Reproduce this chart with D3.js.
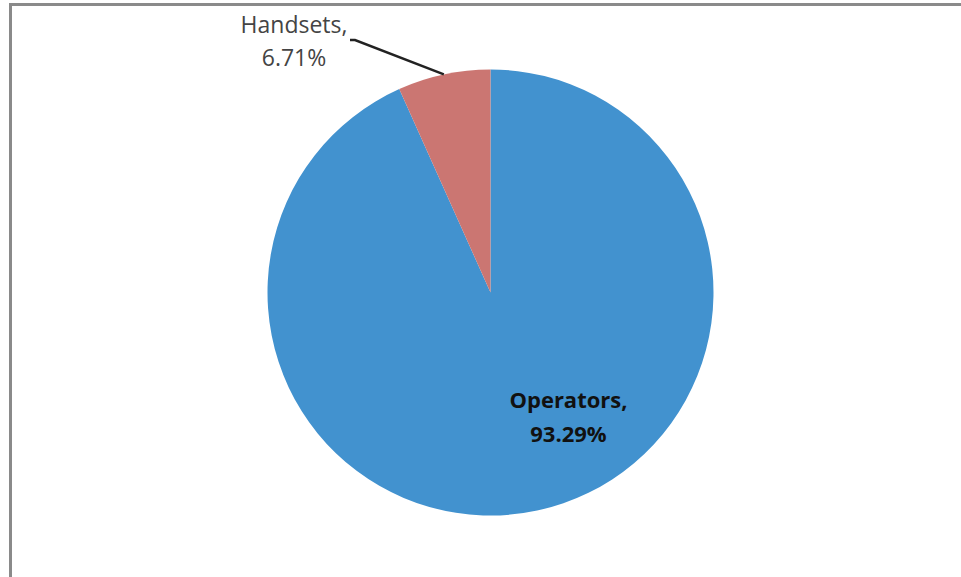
<!DOCTYPE html>
<html lang="en">
<head>
    <meta charset="UTF-8">
    <title>Operators vs Handsets</title>
    <script src="https://d3js.org/d3.v7.min.js"></script>
    <style>
        body { margin: 0; background: #fff; }
        text { font-family: "Open Sans", sans-serif; }
    </style>
</head>
<body>
    <svg width="961" height="577"></svg>

    <script>
        const categories = ["Operators", "Handsets"];
        const shares = [93.29, 6.71];
        const colors = ["#4292cf", "#cb7672"];

        const svg = d3.select("svg");

        // chart frame (only top and left edges show in the crop)
        svg.append("path")
            .attr("d", "M10.5,577 V4.5 H961")
            .attr("fill", "none")
            .attr("stroke", "#8a8a8a")
            .attr("stroke-width", 3);

        const cx = 490.5, cy = 292.5, r = 223;
        const g = svg.append("g").attr("transform", `translate(${cx},${cy})`);

        const pie = d3.pie().sort(null).value(d => d.value);
        const arcs = pie(categories.map((c, i) => ({ name: c, value: shares[i], color: colors[i] })));
        const arc = d3.arc().innerRadius(0).outerRadius(r);

        g.selectAll("path.slice")
            .data(arcs)
            .enter().append("path")
            .attr("class", "slice")
            .attr("d", arc)
            .attr("fill", d => d.data.color);

        // Operators label inside the slice, bold
        const op = arcs[0];
        const opLabel = g.append("text")
            .attr("text-anchor", "middle")
            .attr("font-size", 22)
            .attr("font-weight", "bold")
            .attr("fill", "#111");
        opLabel.append("tspan").attr("x", 78).attr("y", 115).text(op.data.name + ",");
        opLabel.append("tspan").attr("x", 78).attr("y", 149).text(op.data.value.toFixed(2) + "%");

        // Handsets label outside with leader line
        const hs = arcs[1];
        const mid = (hs.startAngle + hs.endAngle) / 2;
        const edge = [r * Math.sin(mid), -r * Math.cos(mid)];
        const elbow = [355 - cx, 40 - cy];
        g.append("polyline")
            .attr("points", [[elbow[0] - 5, elbow[1]], elbow, edge].map(p => p.join(",")).join(" "))
            .attr("fill", "none")
            .attr("stroke", "#222")
            .attr("stroke-width", 2.5);

        const hsLabel = g.append("text")
            .attr("text-anchor", "middle")
            .attr("font-size", 23)
            .attr("fill", "#444");
        hsLabel.append("tspan").attr("x", 294 - cx).attr("y", 33 - cy).text(hs.data.name + ",");
        hsLabel.append("tspan").attr("x", 294 - cx).attr("y", 66 - cy).text(hs.data.value.toFixed(2) + "%");
    </script>
</body>
</html>
